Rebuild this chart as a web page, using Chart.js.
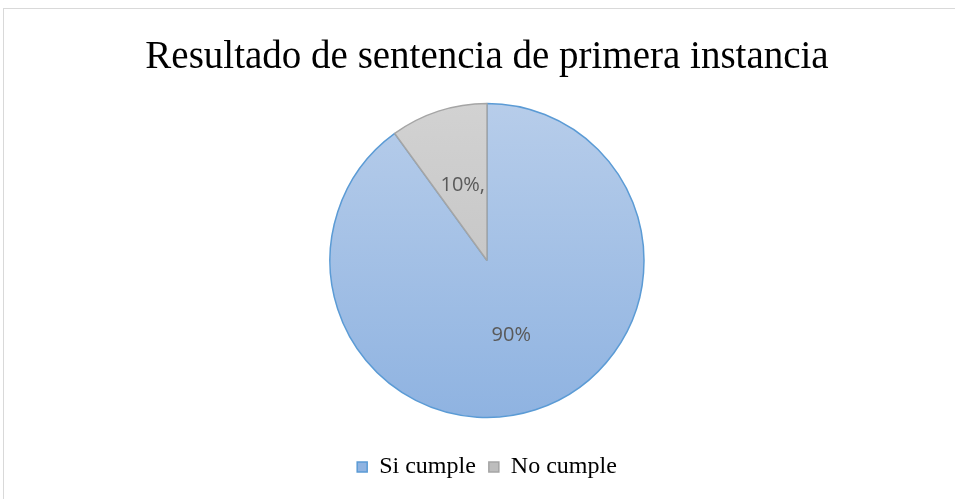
<!DOCTYPE html>
<html>
<head>
<meta charset="utf-8">
<script src="https://cdn.jsdelivr.net/npm/chart.js@4/dist/chart.umd.min.js"></script>
<style>
  html, body { margin: 0; padding: 0; background: #fff; overflow: hidden; }
  #wrap { position: relative; width: 955px; height: 499px; }
  #frame { position: absolute; left: 3px; top: 8px; width: 1000px; height: 600px; border: 1px solid #d9d9d9; box-sizing: border-box; }
  canvas { position: absolute; left: 0; top: 0; }
</style>
</head>
<body>
<div id="wrap">
  <div id="frame"></div>
  <canvas id="pieChart" width="955" height="499"></canvas>
</div>
<script>
// datos del grafico
const categorias = ["Si cumple", "No cumple"];
const valores = [90, 10];
const etiquetas = ["90%", "10%,"];

// etiqueta de valor dentro de cada porcion
const etiquetasPlugin = {
    id: "etiquetas",
    afterDatasetsDraw(chart) {
        const ctx = chart.ctx;
        const meta = chart.getDatasetMeta(0);
        ctx.save();
        ctx.font = "20px 'Open Sans', 'Liberation Sans', sans-serif";
        ctx.fillStyle = "#595959";
        ctx.textAlign = "center";
        ctx.textBaseline = "middle";
        meta.data.forEach((arc, i) => {
            const p = arc.tooltipPosition();
            ctx.fillText(etiquetas[i], p.x, p.y);
        });
        ctx.restore();
    }
};

// degradado vertical para cada porcion
function relleno(context) {
    const chart = context.chart;
    const area = chart.chartArea;
    const azul = context.dataIndex === 0;
    if (!area) return azul ? "#a5c1e6" : "#cccccc";
    const cy = (area.top + area.bottom) / 2;
    const g = chart.ctx.createLinearGradient(0, cy - 157, 0, cy + 157);
    if (azul) {
        g.addColorStop(0, "#b7cdea");
        g.addColorStop(1, "#8fb3e1");
    } else {
        g.addColorStop(0, "#d2d2d2");
        g.addColorStop(1, "#bdbdbd");
    }
    return g;
}

new Chart(document.getElementById("pieChart"), {
    type: "pie",
    data: {
        labels: categorias,
        datasets: [
            {
                data: valores,
                backgroundColor: relleno,
                borderColor: ["#5b9bd5", "#a5a5a5"],
                borderWidth: 1.5,
                radius: 157
            }
        ]
    },
    options: {
        responsive: false,
        animation: false,
        layout: { padding: { top: 8, left: 19, right: 0, bottom: 10 } },
        plugins: {
            title: {
                display: true,
                text: "Resultado de sentencia de primera instancia",
                color: "#000000",
                font: { family: "'Liberation Serif', 'Times New Roman', serif", size: 39, weight: "normal", lineHeight: 1.1 },
                padding: { top: 28, bottom: 0 }
            },
            legend: {
                position: "bottom",
                labels: {
                    color: "#000000",
                    font: { family: "'Liberation Serif', 'Times New Roman', serif", size: 24 },
                    boxWidth: 10,
                    boxHeight: 10,
                    padding: 13
                }
            },
            tooltip: { enabled: false }
        }
    },
    plugins: [etiquetasPlugin]
});
</script>
</body>
</html>
